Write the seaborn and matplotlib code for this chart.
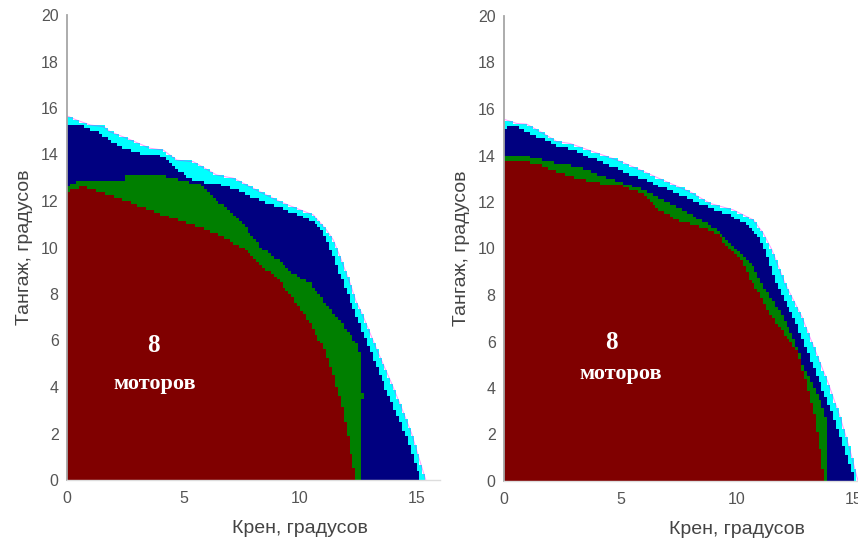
import numpy as np
import matplotlib
matplotlib.use("Agg")
import matplotlib.pyplot as plt
import seaborn as sns
from matplotlib.path import Path
from matplotlib.colors import ListedColormap, BoundaryNorm

# ---------------- data: region boundaries (Крен x, Тангаж y) ----------------
# left panel
L_out_x = [0, 0.42, 1.0, 1.56, 1.85, 2.56, 3.56, 4.13, 4.71, 5.42, 6.42, 7.14, 8.14, 9.14, 9.86,
           10.57, 11.14, 11.43, 11.72, 12.15, 12.4, 12.72, 13.3, 13.93, 14.4, 14.79, 15.22, 15.4]
L_out_y = [15.66, 15.48, 15.27, 15.2, 14.98, 14.7, 14.27, 14.19, 13.76, 13.69, 13.12, 12.98, 12.47,
           11.97, 11.68, 11.4, 10.75, 10.32, 9.6, 8.46, 7.7, 7.02, 5.6, 4.16, 3.0, 2.0, 0.57, 0.0]
L_navy_x = [0, 0.42, 1.27, 2.13, 3.13, 4.0, 4.56, 5.28, 5.71, 6.42, 7.42, 8.57, 9.43, 10.29, 10.86,
            11.14, 11.43, 11.86, 12.15, 12.43, 13.0, 13.58, 14.5, 15.0, 15.15]
L_navy_y = [15.2, 15.3, 14.98, 14.41, 14.05, 13.98, 13.48, 12.98, 12.83, 12.76, 12.4, 11.9, 11.61,
            11.26, 10.9, 10.32, 9.6, 8.46, 7.74, 7.02, 5.6, 4.16, 2.0, 0.57, 0.0]
L_green_x = [0, 0.34, 2.45, 2.49, 4.13, 5.14, 5.71, 6.42, 7.28, 7.85, 8.4, 8.71, 9.71, 10.43, 11.57,
             12.43, 12.58, 12.58, 12.79, 12.79, 12.58, 12.58]
L_green_y = [12.59, 12.83, 12.83, 13.08, 13.08, 12.83, 12.69, 12.04, 11.33, 10.61, 9.95, 9.75, 8.89,
             8.46, 7.02, 5.87, 5.5, 3.73, 3.73, 3.44, 3.44, 0.0]
L_red_x = [0, 0.7, 1.42, 2.42, 3.56, 4.56, 5.57, 6.57, 7.42, 7.7, 8.28, 9.14, 9.7, 10.5, 11.07, 11.45,
           11.72, 12.0, 12.15, 12.36, 12.36]
L_red_y = [12.4, 12.62, 12.4, 12.04, 11.61, 11.26, 10.9, 10.54, 10.03, 9.89, 9.32, 8.53, 7.8, 6.6,
           5.59, 4.5, 3.44, 2.3, 1.29, 0.2, 0.0]

# right panel
R_out_x = [0, 0.54, 0.97, 1.69, 2.26, 2.83, 3.83, 4.84, 5.84, 6.98, 7.98, 8.84, 9.84, 10.7, 11.13,
           11.5, 12.06, 12.78, 13.35, 13.92, 14.42, 14.85, 15.14, 15.2]
R_out_y = [15.56, 15.38, 15.35, 14.95, 14.6, 14.52, 14.16, 13.81, 13.38, 12.87, 12.44, 11.94, 11.66,
           11.23, 10.65, 9.94, 8.5, 7.07, 5.63, 4.2, 2.77, 1.33, 0.19, 0.0]
R_navy_x = [0, 0.54, 1.26, 2.26, 2.97, 3.98, 5.12, 6.27, 7.41, 8.55, 9.7, 10.56, 10.99, 11.2, 11.7,
            12.42, 12.99, 13.56, 14.13, 14.64, 14.99, 15.0]
R_navy_y = [15.17, 15.24, 14.88, 14.45, 14.24, 13.81, 13.3, 12.87, 12.37, 11.87, 11.44, 10.94, 10.37,
            9.94, 8.5, 7.07, 5.63, 4.2, 2.77, 1.33, 0.19, 0.0]
R_green_x = [0, 0.83, 1.26, 2.26, 3.12, 4.12, 5.12, 5.84, 6.84, 7.98, 9.13, 10.06, 10.7, 11.06, 12.0,
             12.63, 12.85, 13.2, 13.56, 13.85, 13.85]
R_green_y = [14.02, 14.02, 13.88, 13.66, 13.52, 13.16, 12.8, 12.59, 12.09, 11.51, 10.8, 9.94, 9.22,
             8.5, 7.07, 5.63, 4.92, 4.2, 3.5, 2.6, 0.0]
R_red_x = [0, 0.83, 1.55, 2.26, 3.12, 4.12, 4.98, 5.55, 6.12, 6.7, 7.41, 8.41, 9.13, 9.63, 10.27,
           10.6, 10.99, 11.49, 12.56, 12.99, 13.35, 13.56, 13.73, 13.73]
R_red_y = [13.81, 13.76, 13.59, 13.3, 13.02, 12.8, 12.73, 12.52, 12.23, 11.66, 11.23, 10.94, 10.65,
           10.1, 9.36, 8.6, 8.07, 7.07, 5.63, 4.2, 2.77, 1.33, 0.3, 0.0]

x_ticks = [0, 5, 10, 15]
y_ticks = list(range(0, 21, 2))
x_label = "Крен, градусов"
y_label = "Тангаж, градусов"
note_num = "8"
note_word = "моторов"

layer_colors = ["#00ffff", "#000080", "#007f00", "#800000"]
edge_color = "#ff00ff"

# ---------------- style ----------------
sns.set_theme(style="white")
plt.rcParams["font.family"] = ["Liberation Sans", "DejaVu Sans"]

fig = plt.figure(figsize=(8.58, 5.42), dpi=100)
W, H = 858.0, 542.0
ppu = 23.3  # pixels per unit

ax_l = fig.add_axes([67 / W, (H - 480) / H, 16 * ppu / W, 465 / H])
ax_r = fig.add_axes([504 / W, (H - 481) / H, 16 * ppu / W, 465 / H])

step = 0.125
xe = np.arange(0, 16 + 1e-9, step)
ye = np.arange(0, 20 + 1e-9, step)
xc = (xe[:-1] + xe[1:]) / 2
yc = (ye[:-1] + ye[1:]) / 2
XX, YY = np.meshgrid(xc, yc)
pts = np.column_stack([XX.ravel(), YY.ravel()])

cmap = ListedColormap(layer_colors)
norm = BoundaryNorm([0.5, 1.5, 2.5, 3.5, 4.5], 4)


def draw_panel(ax, layers, txt_pos):
    code = np.zeros(XX.shape)
    for lvl, (lx, ly) in enumerate(layers, start=1):
        verts = np.column_stack([[0] + list(lx) + [0], [0] + list(ly) + [0]])
        inside = Path(verts).contains_points(pts).reshape(XX.shape)
        code[inside] = lvl
    masked = np.ma.masked_where(code == 0, code)
    ax.pcolormesh(xe, ye, masked, cmap=cmap, norm=norm, shading="flat",
                  antialiased=False, edgecolors="face", linewidth=0)
    ox, oy = layers[0]
    sns.lineplot(x=ox, y=oy, sort=False, estimator=None, color=edge_color,
                 lw=0.7, alpha=0.4, ax=ax)
    ax.set_xlim(0, 16)
    ax.set_ylim(0, 20)
    ax.set_xticks(x_ticks)
    ax.set_yticks(y_ticks)
    ax.tick_params(axis="both", length=0, labelsize=11.5, colors="#555555")
    ax.tick_params(axis="y", pad=6)
    ax.tick_params(axis="x", pad=8)
    sns.despine(ax=ax)
    ax.spines["left"].set_color("#a6a6a6")
    ax.spines["left"].set_linewidth(1.3)
    ax.spines["bottom"].set_color("#dddddd")
    ax.spines["bottom"].set_linewidth(1.0)
    ax.set_xlabel(x_label, fontsize=14, color="#444444")
    ax.set_ylabel(y_label, fontsize=14, color="#444444")
    ax.xaxis.set_label_coords(0.625, -0.085)
    ax.yaxis.set_label_coords(-0.092, 0.5)
    (nx, ny), (wx, wy) = txt_pos
    ax.text(nx, ny, note_num, color="white", fontsize=18, fontweight="bold",
            family="Liberation Serif", ha="center", va="center")
    ax.text(wx, wy, note_word, color="white", fontsize=16, fontweight="bold",
            family="Liberation Serif", ha="center", va="center")


draw_panel(ax_l,
           [(L_out_x, L_out_y), (L_navy_x, L_navy_y), (L_green_x, L_green_y), (L_red_x, L_red_y)],
           ((3.69, 5.8), (3.78, 4.15)))
draw_panel(ax_r,
           [(R_out_x, R_out_y), (R_navy_x, R_navy_y), (R_green_x, R_green_y), (R_red_x, R_red_y)],
           ((4.6, 5.95), (5.0, 4.6)))

fig.savefig("out.png", dpi=100)
